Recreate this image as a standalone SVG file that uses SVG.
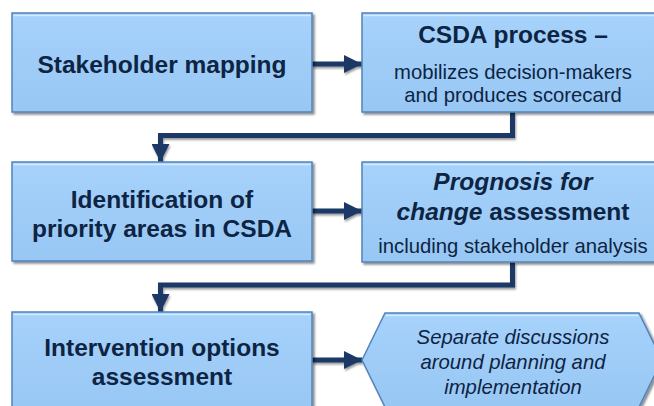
<svg xmlns="http://www.w3.org/2000/svg" width="654" height="406" viewBox="0 0 654 406">
<defs>
<linearGradient id="g" x1="0" y1="0" x2="0" y2="1">
<stop offset="0" stop-color="#a6d2fb"/>
<stop offset="1" stop-color="#98c7f4"/>
</linearGradient>
<filter id="sh" x="-5%" y="-5%" width="115%" height="120%">
<feGaussianBlur in="SourceAlpha" stdDeviation="1.2"/>
<feOffset dx="1.5" dy="2" result="o"/>
<feComponentTransfer><feFuncA type="linear" slope="0.45"/></feComponentTransfer>
<feMerge><feMergeNode/><feMergeNode in="SourceGraphic"/></feMerge>
</filter>
<filter id="shc" filterUnits="userSpaceOnUse" x="0" y="0" width="654" height="406">
<feGaussianBlur in="SourceAlpha" stdDeviation="1"/>
<feOffset dx="1.2" dy="1.5" result="o"/>
<feComponentTransfer><feFuncA type="linear" slope="0.4"/></feComponentTransfer>
<feMerge><feMergeNode/><feMergeNode in="SourceGraphic"/></feMerge>
</filter>
<marker id="ah" markerUnits="userSpaceOnUse" viewBox="0 0 18 18" refX="18" refY="9" markerWidth="18" markerHeight="18" orient="auto">
<path d="M0,0 L18,9 L0,18 Z" fill="#1a3966"/>
</marker>
<style>
.box{fill:url(#g);stroke:#5283ba;stroke-width:1.5;filter:url(#sh)}
.hl{fill:none;stroke:#d4ebff;stroke-width:1.5}
.t{font-family:"Liberation Sans",Arial,sans-serif;fill:#0d2443;text-anchor:middle}
.b{font-weight:bold;font-size:24.5px}
.r{font-size:20.3px}
.i{font-style:italic}
.c{fill:none;stroke:#1a3966;stroke-width:5;stroke-linejoin:miter;marker-end:url(#ah)}
</style>
</defs>

<g id="connectors" filter="url(#shc)">
<path class="c" d="M312,64 H362"/>
<path class="c" d="M512.5,112 V135.5 H160.5 V162"/>
<path class="c" d="M312,211 H362"/>
<path class="c" d="M512.5,262 V285 H160.5 V312"/>
<path class="c" d="M312,360 H362"/>
</g>

<g id="n1">
<rect class="box" x="12" y="13" width="300" height="99"/>
<line class="hl" x1="13.5" y1="15.5" x2="310.5" y2="15.5"/>
<text class="t b" x="162" y="72.5">Stakeholder mapping</text>
</g>

<g id="n2">
<rect class="box" x="362" y="13" width="302" height="99"/>
<line class="hl" x1="363.5" y1="15.5" x2="662.5" y2="15.5"/>
<text class="t b" x="513" y="43">CSDA process –</text>
<text class="t r" x="513" y="79">mobilizes decision-makers</text>
<text class="t r" x="513" y="101.5">and produces scorecard</text>
</g>

<g id="n3">
<rect class="box" x="12" y="162" width="300" height="99"/>
<line class="hl" x1="13.5" y1="164.5" x2="310.5" y2="164.5"/>
<text class="t b" x="162" y="208">Identification of</text>
<text class="t b" x="162" y="237">priority areas in CSDA</text>
</g>

<g id="n4">
<rect class="box" x="362" y="162" width="302" height="100"/>
<line class="hl" x1="363.5" y1="164.5" x2="662.5" y2="164.5"/>
<text class="t b" x="513" y="190"><tspan class="i">Prognosis for</tspan></text>
<text class="t b" x="513" y="220"><tspan class="i">change</tspan> assessment</text>
<text class="t r" x="513" y="252.5">including stakeholder analysis</text>
</g>

<g id="n5">
<rect class="box" x="12" y="312" width="300" height="100"/>
<line class="hl" x1="13.5" y1="314.5" x2="310.5" y2="314.5"/>
<text class="t b" x="162" y="356">Intervention options</text>
<text class="t b" x="162" y="385">assessment</text>
</g>

<g id="n6">
<polygon class="box" points="362,360 385,313 639,313 662,360 639,407 385,407"/>
<line class="hl" x1="386" y1="315.5" x2="638" y2="315.5"/>
<text class="t r i" x="513" y="344">Separate discussions</text>
<text class="t r i" x="513" y="369">around planning and</text>
<text class="t r i" x="513" y="394">implementation</text>
</g>
</svg>
